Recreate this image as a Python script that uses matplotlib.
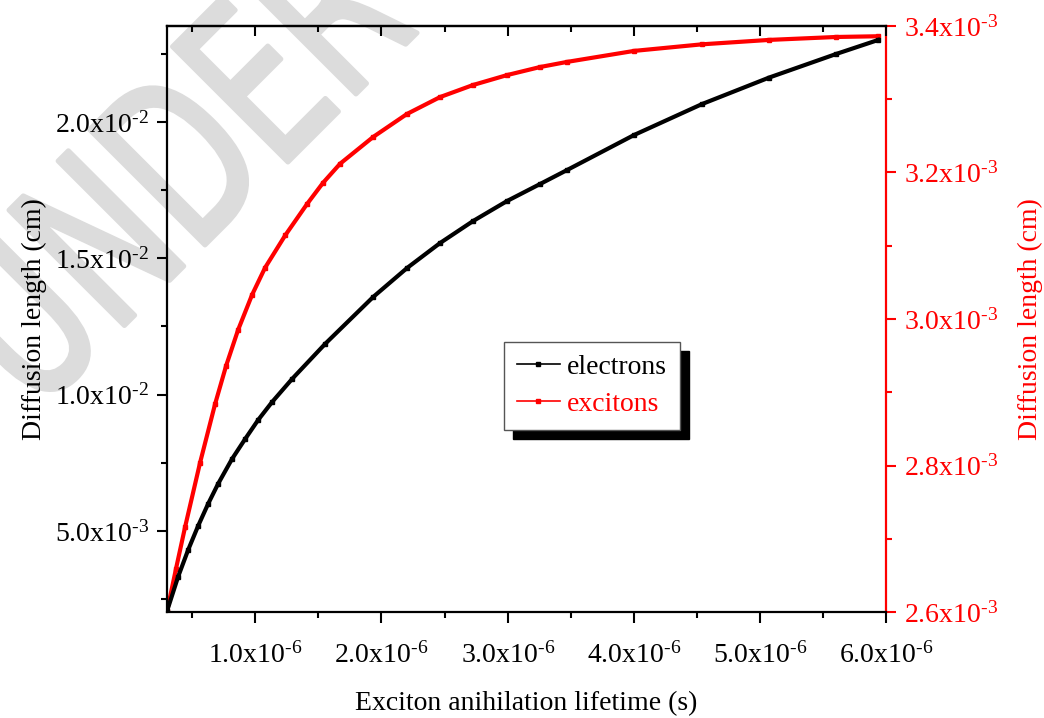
import numpy as np
import matplotlib
matplotlib.use("Agg")
import matplotlib.pyplot as plt
from matplotlib.ticker import MultipleLocator, FuncFormatter
from matplotlib.lines import Line2D
from matplotlib.textpath import TextPath
from matplotlib.patches import PathPatch
from matplotlib.font_manager import FontProperties
from matplotlib.transforms import Affine2D, IdentityTransform

plt.rcParams['font.family'] = ['Liberation Serif', 'DejaVu Serif']
plt.rcParams['mathtext.fontset'] = 'custom'
plt.rcParams['mathtext.rm'] = 'Liberation Serif'
plt.rcParams['mathtext.it'] = 'Liberation Serif:italic'

# ---- data ----
tau_e = [0.300e-6, 0.387e-6, 0.467e-6, 0.546e-6, 0.625e-6, 0.704e-6, 0.815e-6, 0.919e-6,
         1.022e-6, 1.133e-6, 1.291e-6, 1.553e-6, 1.934e-6, 2.203e-6, 2.465e-6, 2.727e-6,
         2.996e-6, 3.258e-6, 3.472e-6, 4.003e-6, 4.543e-6, 5.074e-6, 5.605e-6, 5.938e-6]
L_electrons = [2.063e-3, 3.311e-3, 4.301e-3, 5.181e-3, 5.988e-3, 6.722e-3, 7.639e-3, 8.372e-3,
               9.069e-3, 9.730e-3, 1.0573e-2, 1.186e-2, 1.3581e-2, 1.4645e-2, 1.5562e-2,
               1.6369e-2, 1.7102e-2, 1.7726e-2, 1.8239e-2, 1.9523e-2, 2.066e-2, 2.163e-2,
               2.2494e-2, 2.3008e-2]

tau_x = [0.300e-6, 0.371e-6, 0.443e-6, 0.562e-6, 0.681e-6, 0.768e-6, 0.863e-6, 0.974e-6,
         1.077e-6, 1.236e-6, 1.410e-6, 1.537e-6, 1.672e-6, 1.934e-6, 2.203e-6, 2.465e-6,
         2.727e-6, 2.996e-6, 3.258e-6, 3.472e-6, 4.003e-6, 4.543e-6, 5.074e-6, 5.605e-6,
         5.938e-6]
L_excitons = [2.601e-3, 2.659e-3, 2.716e-3, 2.804e-3, 2.884e-3, 2.936e-3, 2.985e-3, 3.033e-3,
              3.070e-3, 3.114e-3, 3.157e-3, 3.186e-3, 3.212e-3, 3.2485e-3, 3.280e-3, 3.303e-3,
              3.3195e-3, 3.333e-3, 3.344e-3, 3.351e-3, 3.366e-3, 3.375e-3, 3.381e-3, 3.385e-3,
              3.386e-3]

series_labels = ["electrons", "excitons"]
x_label = "Exciton anihilation lifetime (s)"
y_label = "Diffusion length (cm)"
watermark = "UNDER REVIEW"

RED = '#ff0000'
FS = 20


def sci_fmt(v, pos=None):
    if v <= 0:
        return ''
    e = int(np.floor(np.log10(v) + 1e-9))
    m = v / 10 ** e
    return '$\\mathregular{%.1fx10^{\u2010%d}}$' % (m, -e)


fig = plt.figure(figsize=(10.44, 7.18), dpi=100)

# background watermark (drawn as a path, behind everything)
wm_path = TextPath((0, 0), watermark, size=224,
                   prop=FontProperties(family='DejaVu Sans', weight='normal'))
wm_tr = Affine2D().scale(0.68, 1.0).rotate_deg(45).translate(35, 303)
fig.add_artist(PathPatch(wm_path, transform=wm_tr + IdentityTransform(),
                         facecolor='#dcdcdc', edgecolor='#dcdcdc', lw=3.5,
                         joinstyle='round', capstyle='round', zorder=-10))

ax = fig.add_axes([0.160, 0.1476, 0.6887, 0.8162])
ax2 = ax.twinx()

ax.plot(tau_e, L_electrons, color='black', lw=3.0, marker='s', ms=3, zorder=3)
ax2.plot(tau_x, L_excitons, color=RED, lw=3.0, marker='s', ms=3, zorder=3)

ax.set_xlim(0.30e-6, 6.0e-6)
ax.set_ylim(2.027e-3, 2.352e-2)
ax2.set_ylim(2.6e-3, 3.4e-3)

ax.xaxis.set_major_locator(MultipleLocator(1e-6))
ax.xaxis.set_minor_locator(MultipleLocator(0.5e-6))
ax.yaxis.set_major_locator(MultipleLocator(5e-3))
ax.yaxis.set_minor_locator(MultipleLocator(2.5e-3))
ax2.yaxis.set_major_locator(MultipleLocator(0.2e-3))
ax2.yaxis.set_minor_locator(MultipleLocator(0.1e-3))
for a in (ax.xaxis, ax.yaxis, ax2.yaxis):
    a.set_major_formatter(FuncFormatter(sci_fmt))

for s in ['left', 'bottom', 'top']:
    ax.spines[s].set_linewidth(1.6)
ax.spines['right'].set_visible(False)
for s in ['left', 'bottom', 'top']:
    ax2.spines[s].set_visible(False)
ax2.spines['right'].set_color(RED)
ax2.spines['right'].set_linewidth(1.6)

ax.tick_params(axis='x', which='major', direction='out', length=8, width=1.5,
               labelsize=FS, pad=14, top=False)
ax.tick_params(axis='x', which='minor', direction='out', length=4.5, width=1.5, top=False)
ax.tick_params(axis='y', which='major', direction='out', length=7, width=1.5,
               labelsize=FS, pad=6)
ax.tick_params(axis='y', which='minor', direction='out', length=4, width=1.5)
ax2.tick_params(axis='y', which='major', direction='out', length=7, width=1.5,
                labelsize=FS, pad=6, colors=RED)
ax2.tick_params(axis='y', which='minor', direction='out', length=4, width=1.5, colors=RED)

axt = ax.secondary_xaxis('top')
axt.xaxis.set_major_locator(MultipleLocator(1e-6))
axt.xaxis.set_minor_locator(MultipleLocator(0.5e-6))
axt.tick_params(axis='x', which='major', direction='in', length=7, width=1.5, labeltop=False)
axt.tick_params(axis='x', which='minor', direction='in', length=4.5, width=1.5)
axt.spines['top'].set_linewidth(1.6)

ax.set_xlabel(x_label, fontsize=FS, labelpad=16)
ax.set_ylabel(y_label, fontsize=FS, labelpad=6)
ax2.set_ylabel(y_label, fontsize=FS, color=RED, rotation=90, labelpad=14)

handles = [Line2D([], [], color='black', lw=1.2, marker='s', ms=3.5),
           Line2D([], [], color=RED, lw=1.2, marker='s', ms=3.5)]
leg = ax.legend(handles, series_labels, loc='upper left', bbox_to_anchor=(0.4687, 0.4608),
                borderaxespad=0, fontsize=FS, frameon=True, fancybox=False,
                edgecolor='#555555', framealpha=1, handlelength=1.55, handletextpad=0.28,
                labelspacing=0.42, borderpad=0.45,
                shadow={'color': 'black', 'alpha': 1, 'ox': 6.5, 'oy': -6.5})
leg.get_frame().set_linewidth(1.0)
for t, c in zip(leg.get_texts(), ['black', RED]):
    t.set_color(c)
ax.set_zorder(ax2.get_zorder() + 1)
ax.patch.set_visible(False)
ax2.patch.set_visible(False)

fig.savefig("out.png", dpi=100)
